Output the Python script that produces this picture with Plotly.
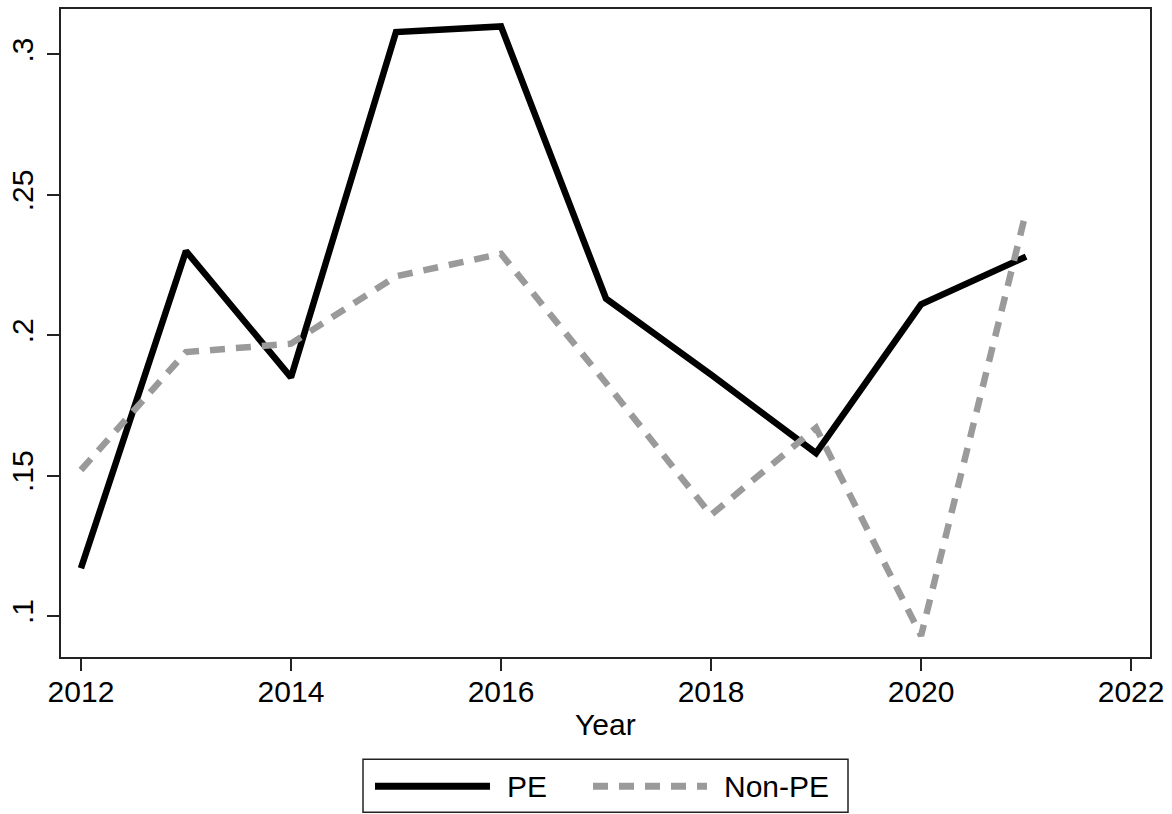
import plotly.graph_objects as go

years = [2012, 2013, 2014, 2015, 2016, 2017, 2018, 2019, 2020, 2021]
pe = [0.117, 0.230, 0.185, 0.308, 0.310, 0.213, 0.186, 0.158, 0.211, 0.228]
non_pe = [0.152, 0.194, 0.197, 0.221, 0.229, 0.183, 0.136, 0.167, 0.093, 0.244]

x_ticks = [2012, 2014, 2016, 2018, 2020, 2022]
y_tickvals = [0.1, 0.15, 0.2, 0.25, 0.3]
y_ticktext = [".1", ".15", ".2", ".25", ".3"]
series_names = ["PE", "Non-PE"]
x_title = "Year"

FONT = "Liberation Sans, Arial, Helvetica, sans-serif"
W, H = 1172, 814
# plot area in page pixels
PL, PR, PT, PB = 61, 1150, 9, 656.7
L, R, T, B = PL, W - PR, PT, H - PB
PE_COLOR = "black"
NPE_COLOR = "#9a9a9a"
DASH = "15px,11px"
FS = 30

fig = go.Figure()
fig.add_trace(go.Scatter(x=years, y=pe, mode="lines", name=series_names[0],
                         line=dict(color=PE_COLOR, width=6.5)))
fig.add_trace(go.Scatter(x=years, y=non_pe, mode="lines", name=series_names[1],
                         line=dict(color=NPE_COLOR, width=6.5, dash=DASH)))

pw = PR - PL
ph = PB - PT


def px(x):
    return (x - PL) / pw


def py(y):
    return (PB - y) / ph


shapes = [
    dict(type="rect", xref="paper", yref="paper", x0=px(363), x1=px(848), y0=py(812), y1=py(759),
         line=dict(color="#222222", width=1.5), fillcolor="white"),
    dict(type="line", xref="paper", yref="paper", x0=px(375), x1=px(490), y0=py(786), y1=py(786),
         line=dict(color=PE_COLOR, width=7)),
    dict(type="line", xref="paper", yref="paper", x0=px(593), x1=px(707), y0=py(786), y1=py(786),
         line=dict(color=NPE_COLOR, width=7, dash=DASH)),
]
annotations = [
    dict(text=series_names[0], xref="paper", yref="paper", x=px(505), y=py(786), xanchor="left",
         yanchor="middle", showarrow=False, font=dict(size=FS, color="black", family=FONT)),
    dict(text=series_names[1], xref="paper", yref="paper", x=px(722), y=py(786), xanchor="left",
         yanchor="middle", showarrow=False, font=dict(size=FS, color="black", family=FONT)),
    dict(text=x_title, xref="paper", yref="paper", x=px(605.5), y=py(724), xanchor="center",
         yanchor="middle", showarrow=False, font=dict(size=FS, color="black", family=FONT)),
]

fig.update_layout(
    width=W, height=H,
    margin=dict(l=L, r=R, t=T, b=B),
    paper_bgcolor="white", plot_bgcolor="white",
    font=dict(family=FONT, size=FS, color="black"),
    showlegend=False,
    shapes=shapes,
    annotations=annotations,
)
fig.update_xaxes(
    range=[2011.81, 2022.18], tickvals=x_ticks, ticks="outside", ticklen=12, tickwidth=1.5,
    tickcolor="#222222", showline=True, linecolor="#222222", linewidth=2, mirror=True,
    showgrid=False, zeroline=False, tickfont=dict(size=FS), automargin=False,
    ticklabelstandoff=-5,
)
fig.update_yaxes(
    range=[0.0854, 0.3162], tickvals=y_tickvals, ticktext=y_ticktext, tickangle=-90,
    ticks="outside", ticklen=12, tickwidth=1.5, tickcolor="#222222",
    showline=True, linecolor="#222222", linewidth=2, mirror=True,
    showgrid=False, zeroline=False, tickfont=dict(size=FS), automargin=False,
    ticklabelstandoff=2,
)

fig.write_html("out.html", config={"displayModeBar": False},
               post_script="document.body.style.margin='0px';")
